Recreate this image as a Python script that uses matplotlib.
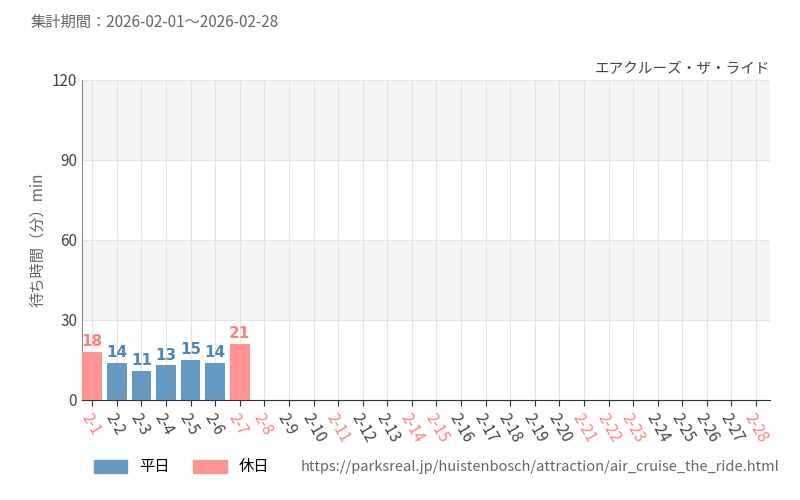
import numpy as np
import matplotlib.pyplot as plt

plt.rcParams['font.family'] = ['Noto Sans CJK JP', 'DejaVu Sans']

days = [f"2-{d}" for d in range(1, 29)]
holidays = ["2-1", "2-7", "2-8", "2-11", "2-14", "2-15", "2-21", "2-22", "2-23", "2-28"]
waits = [18, 14, 11, 13, 15, 14, 21]

blue = "#6699c2"
pink = "#ff9393"
blue_txt = "#4d86b8"
pink_txt = "#ff8080"

fig = plt.figure(figsize=(8, 5), dpi=100)
ax = fig.add_axes([0.1025, 0.2, 0.86, 0.64])

x = np.arange(len(days))
for i, v in enumerate(waits):
    hol = days[i] in holidays
    ax.bar(i, v, width=0.8, color=pink if hol else blue, zorder=3)
    ax.text(i, v + 1, str(v), ha="center", va="bottom", fontsize=11,
            color=pink_txt if hol else blue_txt, fontfamily="Liberation Sans Narrow",
            fontweight="bold", zorder=4)

ax.set_xlim(-0.42, 27.57)
ax.set_ylim(0, 120)
ax.set_yticks([0, 30, 60, 90, 120])
ax.axhspan(30, 60, color="#f5f5f5", zorder=0)
ax.axhspan(90, 120, color="#f5f5f5", zorder=0)
for y in [30, 60, 90, 120]:
    ax.axhline(y, color="#e4e4e4", lw=0.8, zorder=1)
for i in x:
    ax.axvline(i, color="#e4e4e4", lw=0.8, zorder=1)

ax.set_xticks(x)
ax.set_xticklabels(days, rotation=-60, ha="left", rotation_mode="anchor", fontsize=11)
for lbl in ax.get_xticklabels():
    lbl.set_color(pink_txt if lbl.get_text() in holidays else "#444444")
ax.tick_params(axis="y", labelsize=11, colors="#444444", length=0)
ax.tick_params(axis="x", length=4, color="#333333")
for s in ["top", "right"]:
    ax.spines[s].set_visible(False)
ax.spines["left"].set_color("#888888")
ax.spines["bottom"].set_color("#333333")
ax.set_ylabel("待ち時間（分）min", fontsize=11, color="#666666")

fig.text(0.038, 0.955, "集計期間：2026-02-01～2026-02-28", fontsize=11, color="#666666", va="center")
fig.text(0.963, 0.862, "エアクルーズ・ザ・ライド", fontsize=10.5, color="#444444", ha="right", va="center")
fig.text(0.975, 0.065, "https://parksreal.jp/huistenbosch/attraction/air_cruise_the_ride.html",
         fontsize=10.5, color="#666666", ha="right", va="center")

from matplotlib.patches import Patch
fig.legend(handles=[Patch(color=blue, label="平日"), Patch(color=pink, label="休日")],
           loc="center left", bbox_to_anchor=(0.1, 0.066), ncol=2, frameon=False,
           fontsize=11, handlelength=2.2, handleheight=0.9, columnspacing=1.5)

fig.savefig("out.png")
